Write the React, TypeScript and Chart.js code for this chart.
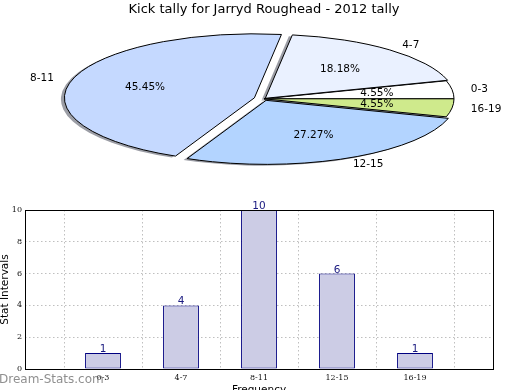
import React, { useEffect, useRef } from 'react';
import { Chart, registerables } from 'chart.js';

Chart.register(...registerables);

// ---------- data ----------
const TITLE = 'Kick tally for Jarryd Roughead - 2012 tally';
const CATEGORIES = ['0-3', '4-7', '8-11', '12-15', '16-19'];
const COUNTS = [1, 4, 10, 6, 1];
const Y_MIN = 0;
const Y_MAX = 10;
const Y_STEP = 2;
const X_TITLE = 'Frequency';
const Y_TITLE = 'Stat Intervals';
const WATERMARK = 'Dream-Stats.com';

// ---------- styles ----------
const SLICE_COLORS = ['#FFFFFF', '#EAF1FF', '#C5D9FF', '#B3D4FF', '#CFEA8C'];
const EXPLODE = [0, 2, 10, 5, 0];
const SQUASH = 0.337;
const PIE_RADIUS = 190;
const SHADOW_DX = -3.5;
const SHADOW_DY = 4;
const BAR_FILL = '#CCCCE5';
const BAR_EDGE = '#000080';
const FONT = '"DejaVu Sans", sans-serif';
const SERIF = '"DejaVu Serif", serif';

const total = COUNTS.reduce((a, b) => a + b, 0);
const rev = <T,>(a: T[]) => a.slice().reverse();

function pieGeometry(chart: any) {
  const arcs = chart.getDatasetMeta(0).data;
  const n = arcs.length;
  if (!n) return null;
  const { x: cx, y: cy } = arcs[0].getProps(['x', 'y'], true);
  const geom = CATEGORIES.map((_, i) => {
    const arc = arcs[n - 1 - i];
    const p = arc.getProps(['startAngle', 'endAngle', 'outerRadius'], true);
    const mid = (p.startAngle + p.endAngle) / 2;
    const e = EXPLODE[i];
    return {
      arc,
      startAngle: p.startAngle,
      endAngle: p.endAngle,
      r: p.outerRadius,
      mid,
      dx: Math.cos(mid) * e,
      dy: Math.sin(mid) * e,
    };
  });
  return { cx, cy, geom };
}

const ellipsePie = {
  id: 'ellipsePie',
  beforeDatasetsDraw(chart: any) {
    const g0 = pieGeometry(chart);
    if (!g0) return false;
    const { cx, cy, geom } = g0;
    const ctx = chart.ctx;
    const enter = () => {
      ctx.save();
      ctx.translate(cx, cy);
      ctx.scale(1, SQUASH);
      ctx.translate(-cx, -cy);
    };
    const sector = (g: any, ox: number, oy: number) => {
      const x = cx + g.dx + ox;
      const y = cy + g.dy + oy;
      ctx.moveTo(x, y);
      ctx.arc(x, y, g.r, g.startAngle, g.endAngle);
      ctx.closePath();
    };
    // shadow beneath all wedges
    enter();
    ctx.beginPath();
    geom.forEach((g) => sector(g, SHADOW_DX, SHADOW_DY));
    ctx.fillStyle = 'rgba(55,60,75,0.5)';
    ctx.fill();
    ctx.restore();
    // wedges
    geom.forEach((g) => {
      enter();
      ctx.save();
      ctx.translate(g.dx, g.dy);
      g.arc.draw(ctx);
      ctx.restore();
      ctx.beginPath();
      sector(g, 0, 0);
      ctx.restore();
      ctx.lineWidth = 1;
      ctx.strokeStyle = '#000';
      ctx.lineJoin = 'miter';
      ctx.stroke();
    });
    return false;
  },
  afterDraw(chart: any) {
    const g0 = pieGeometry(chart);
    if (!g0) return;
    const { cx, cy, geom } = g0;
    const ctx = chart.ctx;
    ctx.save();
    ctx.font = `10.5px ${FONT}`;
    ctx.fillStyle = '#000';
    ctx.textBaseline = 'middle';
    geom.forEach((g, i) => {
      const c = Math.cos(g.mid);
      const s = Math.sin(g.mid);
      const lx = cx + g.dx + 1.1 * g.r * c;
      const ly = cy + (g.dy + 1.1 * g.r * s) * SQUASH;
      ctx.textAlign = c > 0 ? 'left' : 'right';
      ctx.fillText(CATEGORIES[i], lx, ly);
      const px = cx + g.dx + 0.6 * g.r * c;
      const py = cy + (g.dy + 0.6 * g.r * s) * SQUASH;
      ctx.textAlign = 'center';
      ctx.fillText(((COUNTS[i] / total) * 100).toFixed(2) + '%', px, py);
    });
    ctx.restore();
  },
};

const barExtras = {
  id: 'barExtras',
  afterDatasetsDraw(chart: any) {
    const ctx = chart.ctx;
    const bars = chart.getDatasetMeta(0).data;
    ctx.save();
    ctx.font = `10.5px ${FONT}`;
    ctx.fillStyle = '#1a1a80';
    ctx.textAlign = 'center';
    ctx.textBaseline = 'alphabetic';
    bars.forEach((b: any, i: number) => {
      const { x, y } = b.getProps(['x', 'y'], true);
      ctx.fillText(String(COUNTS[i]), x, y - 1);
    });
    ctx.restore();
  },
  afterDraw(chart: any) {
    const ctx = chart.ctx;
    const { left, top, right, bottom } = chart.chartArea;
    ctx.save();
    ctx.strokeStyle = '#000';
    ctx.lineWidth = 1;
    ctx.strokeRect(Math.round(left) + 0.5, Math.round(top) + 0.5, Math.round(right - left), Math.round(bottom - top));
    ctx.font = `12px ${FONT}`;
    ctx.fillStyle = 'rgba(115,115,115,0.8)';
    ctx.textAlign = 'left';
    ctx.textBaseline = 'alphabetic';
    ctx.fillText(WATERMARK, -1, 188);
    ctx.restore();
  },
};

export default function App() {
  const pieRef = useRef<HTMLCanvasElement>(null);
  const barRef = useRef<HTMLCanvasElement>(null);

  useEffect(() => {
    document.body.style.margin = '0';
    const pie = new Chart(pieRef.current as HTMLCanvasElement, {
      type: 'pie',
      data: {
        labels: rev(CATEGORIES),
        datasets: [
          {
            data: rev(COUNTS),
            backgroundColor: rev(SLICE_COLORS),
            borderWidth: 0,
          },
        ],
      },
      options: {
        responsive: false,
        animation: false,
        devicePixelRatio: 1,
        events: [],
        radius: PIE_RADIUS,
        rotation: 90,
        layout: { padding: { left: 8, right: 0, top: 0, bottom: 10 } },
        plugins: {
          legend: { display: false },
          tooltip: { enabled: false },
          title: {
            display: true,
            text: TITLE,
            color: '#000',
            font: { family: FONT, size: 13, weight: 'normal' },
            padding: { top: 2, bottom: 0 },
          },
        },
      } as any,
      plugins: [ellipsePie],
    });

    const bar = new Chart(barRef.current as HTMLCanvasElement, {
      type: 'bar',
      data: {
        datasets: [
          {
            data: CATEGORIES.map((_, i) => ({ x: i, y: COUNTS[i] })),
            backgroundColor: BAR_FILL,
            borderColor: BAR_EDGE,
            borderWidth: 1,
            borderSkipped: false,
            categoryPercentage: 1,
            barPercentage: 0.46,
          },
        ],
      },
      options: {
        responsive: false,
        animation: false,
        devicePixelRatio: 1,
        events: [],
        layout: { padding: { top: 15, right: 27, left: 0, bottom: 0 } },
        plugins: { legend: { display: false }, tooltip: { enabled: false } },
        scales: {
          x: {
            type: 'linear',
            min: -1,
            max: CATEGORIES.length,
            offset: false,
            z: 1,
            afterFit: (s: any) => {
              s.height = 28;
            },
            grid: { color: 'rgba(0,0,0,0.25)', lineWidth: 1, drawTicks: false },
            border: { display: false, dash: [1.5, 2.5] },
            ticks: {
              stepSize: 1,
              autoSkip: false,
              maxRotation: 0,
              padding: 4,
              color: '#111',
              font: { family: SERIF, size: 8 },
              callback: (v: any) => {
                const k = Number(v);
                return Number.isInteger(k) && CATEGORIES[k] !== undefined ? CATEGORIES[k] : '';
              },
            },
            title: {
              display: true,
              text: X_TITLE,
              color: '#000',
              font: { family: FONT, size: 10.5 },
              padding: 0,
            },
          },
          y: {
            min: Y_MIN,
            max: Y_MAX,
            z: 1,
            afterFit: (s: any) => {
              s.width = 25;
            },
            grid: { color: 'rgba(0,0,0,0.25)', lineWidth: 1, drawTicks: false },
            border: { display: false, dash: [1.5, 2.5] },
            ticks: {
              stepSize: Y_STEP,
              padding: 3,
              color: '#111',
              font: { family: SERIF, size: 8 },
            },
            title: {
              display: true,
              text: Y_TITLE,
              color: '#000',
              font: { family: FONT, size: 10.5 },
              padding: { top: -1.5, bottom: 0 },
            },
          },
        },
      } as any,
      plugins: [barExtras],
    });

    return () => {
      pie.destroy();
      bar.destroy();
    };
  }, []);

  return (
    <div
      style={{
        position: 'fixed',
        left: 0,
        top: 0,
        width: 520,
        height: 390,
        overflow: 'hidden',
        background: '#fff',
      }}
    >
      <canvas
        ref={pieRef}
        width={520}
        height={190}
        style={{ position: 'absolute', left: 0, top: 0, width: 520, height: 190 }}
      />
      <canvas
        ref={barRef}
        width={520}
        height={202}
        style={{ position: 'absolute', left: 0, top: 195, width: 520, height: 202 }}
      />
    </div>
  );
}
